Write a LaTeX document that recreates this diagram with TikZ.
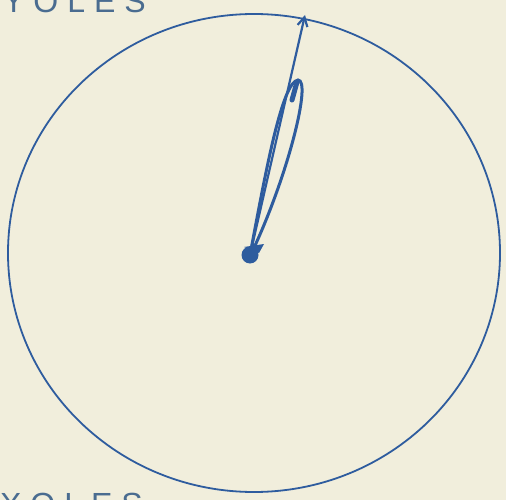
\documentclass[tikz,border=0pt]{standalone}
\usepackage{fontspec}
\newfontfamily\lab[LetterSpace=28]{Liberation Sans}
\usetikzlibrary{arrows.meta}
\definecolor{bg}{HTML}{F1EEDC}
\definecolor{ink}{HTML}{2E5C9E}
\definecolor{txt}{HTML}{4A6C90}
\tikzset{lbl/.style={font=\lab\fontsize{32}{32}\selectfont, text=txt, inner sep=0pt, anchor=base west}}
\begin{document}
\begin{tikzpicture}[x=1pt,y=-1pt]
\fill[bg] (0,0) rectangle (506,500);
\useasboundingbox (0,0) rectangle (506,500);
\node[lbl] (ty) at (3,13) {YOLES};
\node[lbl] (tx) at (0,515) {XOLES};
\draw[ink, line width=1.8pt] (254,253) ellipse [x radius=246, y radius=239];
\coordinate (c) at (250,255);
\coordinate (tip) at (305,15);
\fill[ink] (c) circle (8.5);
\fill[ink] (244,247) -- (264,244) -- (259,253) -- cycle;
\draw[ink, line width=2.2pt, -{Straight Barb[length=9pt,width=10pt]}] (c) -- (tip);
\draw[ink, line width=3pt] (c) .. controls (266,170) and (282,82) .. (298,80)
  .. controls (312,80) and (288,175) .. (253,250);
\draw[ink, line width=5pt, line cap=round] (297,82) -- (292,100);
\end{tikzpicture}
\end{document}
